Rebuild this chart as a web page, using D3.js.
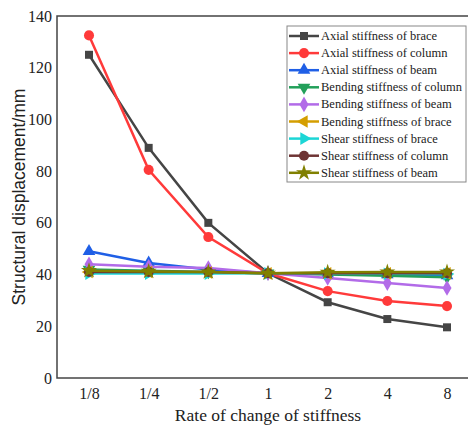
<!DOCTYPE html>
<html>
<head>
<meta charset="utf-8">
<script src="https://cdn.jsdelivr.net/npm/d3@7"></script>
<style>
  body { margin: 0; background: #fff; }
</style>
</head>
<body>
<div id="chart"></div>
<script>
// tick labels on the x axis
const rates = ["1/8", "1/4", "1/2", "1", "2", "4", "8"];

// series values
const axialBrace = [125, 89, 60, 40.5, 29.3, 22.8, 19.6];
const axialColumn = [132.5, 80.5, 54.5, 40.5, 33.6, 29.8, 27.8];
const axialBeam = [49, 44.5, 42, 40.5, 40.3, 40, 39.6];
const bendColumn = [42, 41.5, 41, 40.5, 40, 39.5, 39];
const bendBeam = [44, 43, 42.5, 40.5, 38.7, 36.7, 34.8];
const bendBrace = [41, 41, 40.8, 40.5, 40.5, 40.5, 40.5];
const shearBrace = [40.4, 40.4, 40.4, 40.5, 40.4, 40.3, 40.2];
const shearColumn = [41, 41, 41, 40.5, 40.5, 40.5, 40.5];
const shearBeam = [41.5, 41.2, 41, 40.5, 40.9, 41, 41];

const names = ["Axial stiffness of brace", "Axial stiffness of column", "Axial stiffness of beam",
  "Bending stiffness of column", "Bending stiffness of beam", "Bending stiffness of brace",
  "Shear stiffness of brace", "Shear stiffness of column", "Shear stiffness of beam"];
const values = [axialBrace, axialColumn, axialBeam, bendColumn, bendBeam, bendBrace,
  shearBrace, shearColumn, shearBeam];
const colors = ["#454545", "#ff3a3a", "#1f5fe6", "#22a05a", "#b26be8", "#d49e00",
  "#1cd6d6", "#6e3434", "#808000"];
// marker shape, rotation, size
const shapes = [
  [d3.symbolSquare, 0, 64], [d3.symbolCircle, 0, 80], [d3.symbolTriangle, 0, 70],
  [d3.symbolTriangle, 180, 70], [d3.symbolDiamond, 0, 70], [d3.symbolTriangle, -90, 70],
  [d3.symbolTriangle, 90, 70], [d3.symbolCircle, 0, 80], [d3.symbolStar, 0, 80]
];

const width = 468, height = 432;
const margin = {left: 57, top: 16, right: -4, bottom: 54};

const svg = d3.select("#chart").append("svg")
  .attr("width", width)
  .attr("height", height);

const x = d3.scalePoint()
  .domain(rates)
  .range([89, 447]);

const y = d3.scaleLinear()
  .domain([0, 140])
  .range([height - margin.bottom, margin.top]);

// frame (right side falls outside the picture)
svg.append("rect")
  .attr("x", margin.left)
  .attr("y", margin.top)
  .attr("width", width - margin.right - margin.left)
  .attr("height", y(0) - margin.top)
  .attr("fill", "none")
  .attr("stroke", "#444")
  .attr("stroke-width", 1.5);

const xAxis = svg.append("g")
  .attr("transform", `translate(0,${y(0)})`)
  .call(d3.axisBottom(x).tickSize(0).tickPadding(10));
xAxis.select(".domain").remove();
xAxis.selectAll("text")
  .attr("font-family", "Liberation Serif")
  .attr("font-size", 16)
  .attr("fill", "#222");

const yAxis = svg.append("g")
  .attr("transform", `translate(${margin.left},0)`)
  .call(d3.axisLeft(y).tickValues(d3.range(0, 141, 20)).tickSize(0).tickPadding(5));
yAxis.select(".domain").remove();
yAxis.selectAll("text")
  .attr("font-family", "Liberation Serif")
  .attr("font-size", 16)
  .attr("fill", "#222");

svg.append("text")
  .attr("x", (x("1/8") + x("8")) / 2)
  .attr("y", 421)
  .attr("text-anchor", "middle")
  .attr("font-family", "Liberation Serif")
  .attr("font-size", 17.5)
  .attr("fill", "#222")
  .text("Rate of change of stiffness");

svg.append("text")
  .attr("transform", `translate(19,${(y(0) + y(140)) / 2}) rotate(-90)`)
  .attr("text-anchor", "middle")
  .attr("dominant-baseline", "central")
  .attr("font-family", "Liberation Sans")
  .attr("font-size", 17.5)
  .attr("fill", "#222")
  .text("Structural displacement/mm");

const line = d3.line()
  .x((d, i) => x(rates[i]))
  .y(d => y(d));

function marker(g, k, px, py) {
  const s = shapes[k];
  g.append("path")
    .attr("d", d3.symbol().type(s[0]).size(s[2])())
    .attr("transform", `translate(${px},${py}) rotate(${s[1]})`)
    .attr("fill", colors[k]);
}

values.forEach((vals, k) => {
  const g = svg.append("g");
  g.append("path")
    .attr("d", line(vals))
    .attr("fill", "none")
    .attr("stroke", colors[k])
    .attr("stroke-width", 2.5);
  vals.forEach((v, i) => marker(g, k, x(rates[i]), y(v)));
});

// legend
const lg = svg.append("g").attr("transform", "translate(287,26)");
lg.append("rect")
  .attr("width", 179)
  .attr("height", 156)
  .attr("fill", "#fff")
  .attr("stroke", "#888")
  .attr("stroke-width", 1);
names.forEach((n, k) => {
  const ry = 10 + k * 17.1;
  lg.append("line")
    .attr("x1", 2).attr("x2", 32)
    .attr("y1", ry).attr("y2", ry)
    .attr("stroke", colors[k])
    .attr("stroke-width", 2.5);
  marker(lg, k, 17, ry);
  lg.append("text")
    .attr("x", 34)
    .attr("y", ry)
    .attr("dominant-baseline", "central")
    .attr("font-family", "Liberation Serif")
    .attr("font-size", 12.5)
    .attr("fill", "#222")
    .text(n);
});
</script>
</body>
</html>
